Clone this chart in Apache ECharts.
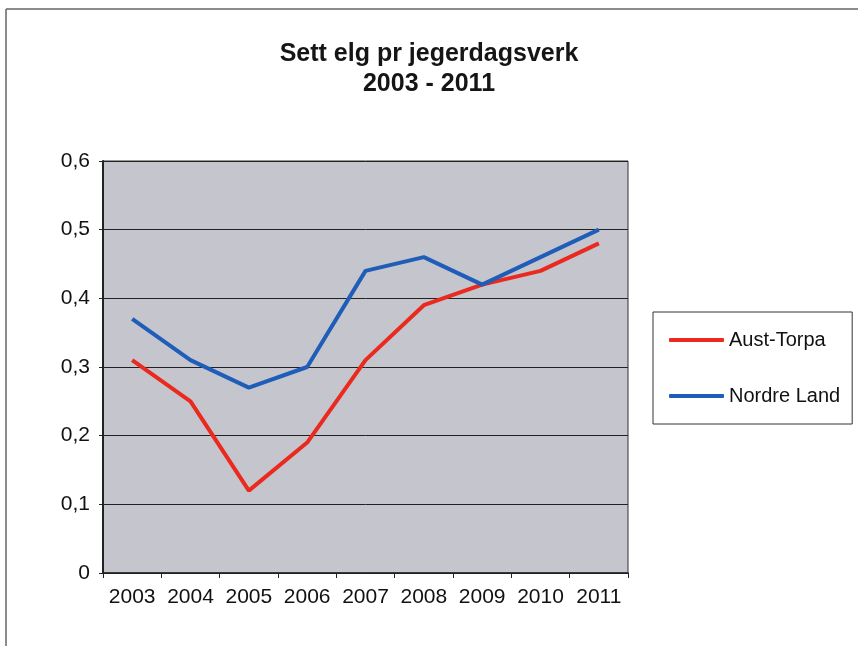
<!DOCTYPE html>
<html>
<head>
<meta charset="utf-8">
<script src="https://cdn.jsdelivr.net/npm/echarts@6/dist/echarts.min.js"></script>
<style>html,body{margin:0;padding:0;background:#fff}#c{width:858px;height:646px}</style>
</head>
<body>
<div id="c"></div>
<script>
const years = ['2003','2004','2005','2006','2007','2008','2009','2010','2011'];
const austTorpa = [0.31, 0.25, 0.12, 0.19, 0.31, 0.39, 0.42, 0.44, 0.48];
const nordreLand = [0.37, 0.31, 0.27, 0.30, 0.44, 0.46, 0.42, 0.46, 0.50];
const seriesNames = ['Aust-Torpa', 'Nordre Land'];
const titleText = 'Sett elg pr jegerdagsverk\n2003 - 2011';

const chart = echarts.init(document.getElementById('c'));
const font = 'Liberation Sans, Arial, sans-serif';
chart.setOption({
  backgroundColor: '#ffffff',
  animation: false,
  title: {
    text: titleText,
    left: 'center',
    top: 39,
    padding: 0,
    textStyle: { fontFamily: font, fontSize: 25, fontWeight: 'bold', color: '#151515', lineHeight: 30 }
  },
  graphic: [
    { type: 'line', shape: { x1: 6, y1: 9, x2: 858, y2: 9 }, style: { stroke: '#666', lineWidth: 1.5 } },
    { type: 'line', shape: { x1: 6, y1: 9, x2: 6, y2: 646 }, style: { stroke: '#666', lineWidth: 1.5 } }
  ],
  legend: {
    orient: 'vertical',
    left: 653,
    top: 312,
    data: seriesNames,
    icon: 'roundRect',
    itemWidth: 55,
    itemHeight: 4,
    itemGap: 36,
    padding: [18, 12, 18, 16],
    borderColor: '#333',
    borderWidth: 1,
    textStyle: { fontFamily: font, fontSize: 20, color: '#111' }
  },
  grid: {
    left: 103, top: 161, right: 230, bottom: 73,
    show: true,
    backgroundColor: '#c5c5cd',
    borderColor: '#333',
    borderWidth: 1
  },
  xAxis: {
    type: 'category',
    data: years,
    boundaryGap: true,
    axisLine: { lineStyle: { color: '#222', width: 1.5 } },
    axisTick: { show: true, interval: 0, length: 5, lineStyle: { color: '#222' } },
    axisLabel: { interval: 0, hideOverlap: false, fontFamily: font, fontSize: 21, color: '#111', margin: 14 }
  },
  yAxis: {
    type: 'value',
    min: 0, max: 0.6, interval: 0.1,
    axisLine: { show: true, lineStyle: { color: '#222', width: 2 } },
    axisTick: { show: true, length: 4, lineStyle: { color: '#222' } },
    axisLabel: {
      fontFamily: font, fontSize: 21, color: '#111', margin: 13,
      formatter: v => v === 0 ? '0' : v.toFixed(1).replace('.', ',')
    },
    splitLine: { show: true, lineStyle: { color: '#222', width: 1 } }
  },
  series: [
    {
      name: seriesNames[0], type: 'line', data: austTorpa,
      symbol: 'none', lineStyle: { color: '#ea2a1e', width: 4 }, itemStyle: { color: '#ea2a1e' }
    },
    {
      name: seriesNames[1], type: 'line', data: nordreLand,
      symbol: 'none', lineStyle: { color: '#1f5db8', width: 4 }, itemStyle: { color: '#1f5db8' }
    }
  ]
});
</script>
</body>
</html>
